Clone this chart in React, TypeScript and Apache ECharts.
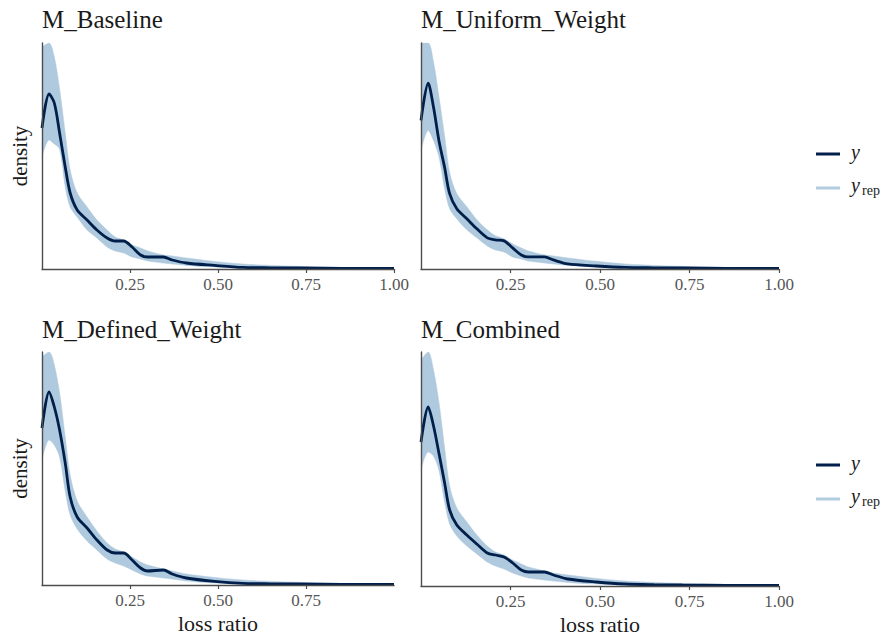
import React, { useEffect, useRef } from "react";
import * as echarts from "echarts";

// shared x grid (loss ratio) at which the densities were read
const lossRatio = [0, 0.02, 0.035, 0.05, 0.066, 0.08, 0.1, 0.128, 0.156, 0.185, 0.208, 0.232, 0.256, 0.28, 0.3, 0.345, 0.37, 0.41, 0.49, 0.57, 0.65, 0.73, 0.85, 1.0];

const panelTitles = ["M_Baseline", "M_Uniform_Weight", "M_Defined_Weight", "M_Combined"];

// observed density y
const baselineY = [7.05, 8.75, 8.3, 6.8, 5.1, 3.8, 2.95, 2.45, 1.95, 1.55, 1.4, 1.4, 1.1, 0.7, 0.6, 0.6, 0.45, 0.3, 0.18, 0.08, 0.06, 0.05, 0.035, 0.025];
const uniformY = [7.4, 9.25, 8.05, 6.4, 5.05, 3.75, 3.0, 2.5, 2.0, 1.55, 1.45, 1.4, 1.05, 0.7, 0.6, 0.6, 0.45, 0.25, 0.15, 0.08, 0.06, 0.05, 0.035, 0.025];
const definedY = [7.85, 9.65, 8.9, 7.75, 6.1, 4.4, 3.4, 2.85, 2.25, 1.75, 1.6, 1.6, 1.25, 0.85, 0.7, 0.75, 0.55, 0.35, 0.18, 0.08, 0.06, 0.05, 0.035, 0.025];
const combinedY = [7.2, 8.95, 8.0, 6.65, 5.15, 3.8, 3.05, 2.55, 2.1, 1.65, 1.55, 1.45, 1.15, 0.8, 0.7, 0.7, 0.55, 0.35, 0.2, 0.1, 0.065, 0.05, 0.035, 0.025];

// replicated densities y_rep: upper and lower envelope
const baselineRepUpper = [11.1, 11.3, 10.6, 9.0, 6.8, 4.95, 3.8, 3.1, 2.45, 1.95, 1.6, 1.45, 1.2, 1.05, 0.9, 0.7, 0.65, 0.55, 0.38, 0.25, 0.18, 0.13, 0.08, 0.04];
const baselineRepLower = [5.6, 6.45, 6.25, 6.0, 4.1, 3.1, 2.6, 1.95, 1.55, 1.1, 0.9, 0.8, 0.6, 0.5, 0.4, 0.3, 0.25, 0.18, 0.1, 0.05, 0.025, 0.01, 0.005, 0.0];
const uniformRepUpper = [11.25, 11.25, 10.3, 8.6, 6.6, 4.8, 3.75, 3.1, 2.45, 1.95, 1.65, 1.5, 1.25, 1.05, 0.9, 0.7, 0.65, 0.55, 0.38, 0.25, 0.18, 0.13, 0.08, 0.04];
const uniformRepLower = [5.9, 6.9, 6.4, 5.6, 4.0, 3.0, 2.5, 1.95, 1.55, 1.15, 0.95, 0.85, 0.6, 0.5, 0.4, 0.3, 0.25, 0.18, 0.1, 0.05, 0.025, 0.01, 0.005, 0.0];
const definedRepUpper = [11.4, 11.65, 11.0, 9.6, 7.4, 5.5, 4.2, 3.4, 2.7, 2.1, 1.8, 1.65, 1.4, 1.15, 1.0, 0.8, 0.7, 0.55, 0.38, 0.25, 0.18, 0.13, 0.08, 0.04];
const definedRepLower = [6.25, 7.25, 7.0, 6.4, 4.7, 3.5, 2.8, 2.2, 1.75, 1.3, 1.1, 0.95, 0.75, 0.55, 0.45, 0.35, 0.3, 0.2, 0.1, 0.05, 0.025, 0.01, 0.005, 0.0];
const combinedRepUpper = [11.3, 11.7, 10.8, 9.2, 6.9, 5.0, 3.9, 3.2, 2.55, 2.0, 1.7, 1.55, 1.3, 1.1, 0.95, 0.75, 0.65, 0.55, 0.38, 0.25, 0.18, 0.13, 0.08, 0.04];
const combinedRepLower = [5.8, 6.7, 6.5, 5.8, 4.2, 3.1, 2.5, 2.0, 1.6, 1.2, 1.0, 0.85, 0.65, 0.5, 0.4, 0.3, 0.25, 0.18, 0.1, 0.05, 0.025, 0.01, 0.005, 0.0];

const yAxisMax = [11.3, 11.25, 11.65, 11.7];

// tick labels
const xTicksFull = [0.25, 0.5, 0.75, 1.0];
const xTicksShort = [0.25, 0.5, 0.75];

const DARK = "#011f4b";
const LIGHT = "#afc9de";
const SERIF = "Times New Roman, Liberation Serif, DejaVu Serif, serif";
const AXIS = "#4d4d4d";

export default function App() {
  const ref = useRef<HTMLDivElement>(null);

  useEffect(() => {
    if (!ref.current) return;
    const chart = echarts.init(ref.current, undefined, { renderer: "svg" });

    const panels = [
      { y: baselineY, up: baselineRepUpper, lo: baselineRepLower, ticks: xTicksFull, grid: { left: 42, top: 43, width: 352, height: 226 } },
      { y: uniformY, up: uniformRepUpper, lo: uniformRepLower, ticks: xTicksFull, grid: { left: 421, top: 43, width: 358, height: 226 } },
      { y: definedY, up: definedRepUpper, lo: definedRepLower, ticks: xTicksShort, grid: { left: 42, top: 352, width: 352, height: 233 } },
      { y: combinedY, up: combinedRepUpper, lo: combinedRepLower, ticks: xTicksFull, grid: { left: 421, top: 352, width: 358, height: 234 } },
    ];

    const grids: any[] = [];
    const xAxes: any[] = [];
    const yAxes: any[] = [];
    const series: any[] = [];
    const graphics: any[] = [];

    panels.forEach((p, i) => {
      grids.push({ ...p.grid, containLabel: false });
      const bottomRow = i >= 2;
      xAxes.push({
        gridIndex: i,
        type: "value",
        min: 0,
        max: 1,
        interval: 0.25,
        z: 10,
        name: bottomRow ? "loss ratio" : "",
        nameLocation: "middle",
        nameGap: 27,
        nameTextStyle: { fontFamily: SERIF, fontSize: 22, color: "#1a1a1a" },
        axisLine: { show: true, onZero: false, lineStyle: { color: AXIS, width: 1.4 } },
        axisTick: { show: true, length: 4, customValues: p.ticks, lineStyle: { color: AXIS, width: 1.2 } },
        axisLabel: {
          customValues: p.ticks,
          formatter: (v: number) => v.toFixed(2),
          fontFamily: SERIF,
          fontSize: 17,
          color: "#555555",
          margin: 7,
        },
        splitLine: { show: false },
      });
      yAxes.push({
        gridIndex: i,
        type: "value",
        min: 0,
        max: yAxisMax[i],
        z: 10,
        axisLine: { show: true, onZero: false, lineStyle: { color: AXIS, width: 1.4 } },
        axisTick: { show: false },
        axisLabel: { show: false },
        splitLine: { show: false },
      });
      // y_rep envelope: upper area in light blue, lower area masked in white
      series.push({
        type: "line",
        name: "y_rep",
        xAxisIndex: i,
        yAxisIndex: i,
        data: lossRatio.map((x, j) => [x, p.up[j]]),
        symbol: "none",
        smooth: 0.3,
        lineStyle: { color: LIGHT, width: 1, opacity: 0.5 },
        areaStyle: { color: LIGHT, opacity: 1 },
        silent: true,
        z: 1,
      });
      series.push({
        type: "line",
        name: "y_rep_lower",
        xAxisIndex: i,
        yAxisIndex: i,
        data: lossRatio.map((x, j) => [x, p.lo[j]]),
        symbol: "none",
        smooth: 0.3,
        lineStyle: { color: LIGHT, width: 1, opacity: 0.5 },
        areaStyle: { color: "#ffffff", opacity: 1 },
        silent: true,
        z: 2,
      });
      series.push({
        type: "line",
        name: "y",
        xAxisIndex: i,
        yAxisIndex: i,
        data: lossRatio.map((x, j) => [x, p.y[j]]),
        symbol: "none",
        smooth: 0.3,
        lineStyle: { color: DARK, width: 2.8 },
        silent: true,
        z: 3,
      });

      // panel title
      graphics.push({
        type: "text",
        x: p.grid.left,
        y: i < 2 ? 19 : 329,
        style: { text: panelTitles[i], fontFamily: SERIF, fontSize: 25, fill: "#1a1a1a", align: "left", verticalAlign: "middle" },
      });
      // y-axis title on left panels
      if (i % 2 === 0) {
        graphics.push({
          type: "text",
          x: 20,
          y: p.grid.top + p.grid.height / 2,
          rotation: Math.PI / 2,
          style: { text: "density", fontFamily: SERIF, fontSize: 21, fill: "#1a1a1a", align: "center", verticalAlign: "middle" },
        });
      }
    });

    // legends (one per row)
    [0, 311].forEach((dy) => {
      graphics.push({ type: "line", shape: { x1: 816, y1: 154 + dy, x2: 840, y2: 154 + dy }, style: { stroke: DARK, lineWidth: 3 } });
      graphics.push({ type: "line", shape: { x1: 816, y1: 188 + dy, x2: 840, y2: 188 + dy }, style: { stroke: "#b3cde0", lineWidth: 3 } });
      graphics.push({ type: "text", x: 851, y: 152 + dy, style: { text: "y", fontFamily: SERIF, fontStyle: "italic", fontSize: 20, fill: "#1a1a1a", verticalAlign: "middle" } });
      graphics.push({ type: "text", x: 851, y: 185 + dy, style: { text: "y", fontFamily: SERIF, fontStyle: "italic", fontSize: 20, fill: "#1a1a1a", verticalAlign: "middle" } });
      graphics.push({ type: "text", x: 862, y: 190 + dy, style: { text: "rep", fontFamily: SERIF, fontSize: 14, fill: "#1a1a1a", verticalAlign: "middle" } });
    });

    chart.setOption({
      animation: false,
      backgroundColor: "#ffffff",
      grid: grids,
      xAxis: xAxes,
      yAxis: yAxes,
      series,
      graphic: graphics,
    });

    return () => chart.dispose();
  }, []);

  return <div ref={ref} style={{ position: "absolute", left: 0, top: 0, width: 889, height: 640 }} />;
}
